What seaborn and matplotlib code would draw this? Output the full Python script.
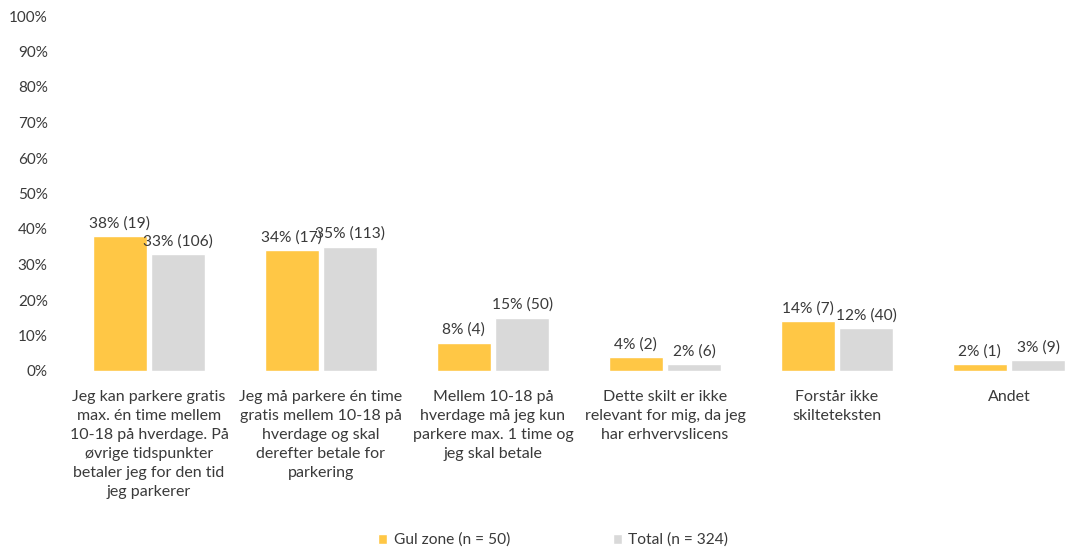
import matplotlib
matplotlib.use("Agg")
import matplotlib.pyplot as plt
import seaborn as sns
import pandas as pd

categories = [
    "Jeg kan parkere gratis\nmax. én time mellem\n10-18 på hverdage. På\nøvrige tidspunkter\nbetaler jeg for den tid\njeg parkerer",
    "Jeg må parkere én time\ngratis mellem 10-18 på\nhverdage og skal\nderefter betale for\nparkering",
    "Mellem 10-18 på\nhverdage må jeg kun\nparkere max. 1 time og\njeg skal betale",
    "Dette skilt er ikke\nrelevant for mig, da jeg\nhar erhvervslicens",
    "Forstår ikke\nskilteteksten",
    "Andet",
]
series_names = ["Gul zone (n = 50)", "Total (n = 324)"]
gul_pct = [38, 34, 8, 4, 14, 2]
gul_n = [19, 17, 4, 2, 7, 1]
total_pct = [33, 35, 15, 2, 12, 3]
total_n = [106, 113, 50, 6, 40, 9]
y_ticks = [0, 10, 20, 30, 40, 50, 60, 70, 80, 90, 100]

colors = ["#FFC745", "#D9D9D9"]
text_color = "#3A3A3A"

df = pd.DataFrame({
    "kategori": categories * 2,
    "serie": [series_names[0]] * len(categories) + [series_names[1]] * len(categories),
    "pct": gul_pct + total_pct,
})

sns.set_theme(style="white")
plt.rcParams["font.family"] = ["Lato", "DejaVu Sans"]

fig = plt.figure(figsize=(10.72, 5.55), dpi=100)
ax = fig.add_axes([63 / 1072, 184 / 555, 1032 / 1072, 355 / 555])

sns.barplot(data=df, x="kategori", y="pct", hue="serie", order=categories,
            hue_order=series_names, palette=colors, width=0.68, gap=0.08,
            saturation=1, errorbar=None, ax=ax, legend=True)

for container, pcts, ns in zip(ax.containers, [gul_pct, total_pct], [gul_n, total_n]):
    labels = [f"{p}% ({n})" for p, n in zip(pcts, ns)]
    ax.bar_label(container, labels=labels, padding=4, fontsize=11.2, color=text_color)

ax.set_ylim(0, 100)
ax.set_yticks(y_ticks)
ax.set_yticklabels([f"{t}%" for t in y_ticks], fontsize=11, color=text_color)
ax.tick_params(axis="y", length=0, pad=11)
ax.tick_params(axis="x", length=0, pad=14, labelsize=11.5, labelcolor=text_color)
for lbl in ax.get_xticklabels():
    lbl.set_linespacing(1.45)
    lbl.set_verticalalignment("top")
ax.set_xlabel("")
ax.set_ylabel("")
for s in ax.spines.values():
    s.set_visible(False)
ax.grid(False)

handles, labels = ax.get_legend_handles_labels()
ax.get_legend().remove()
fig.legend(handles, labels, loc="center", bbox_to_anchor=(0.516, 0.027), ncol=2,
           frameon=False, fontsize=11.2, labelcolor=text_color, handlelength=0.6,
           handleheight=0.6, handletextpad=0.4, columnspacing=6.6)

fig.savefig("out.png", dpi=100)
